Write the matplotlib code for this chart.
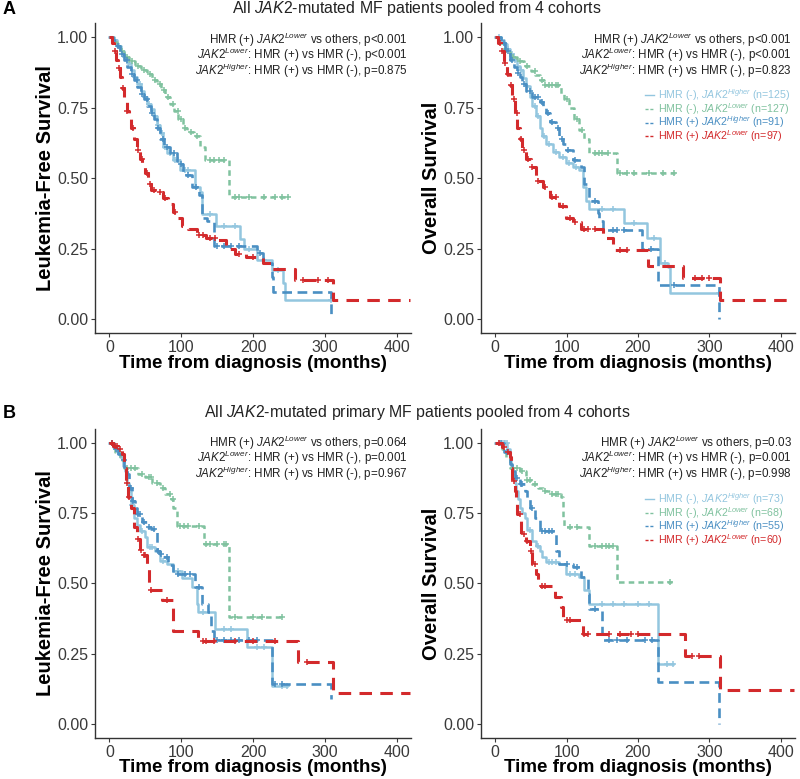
import numpy as np
import matplotlib
matplotlib.use("Agg")
import matplotlib.pyplot as plt
from matplotlib.lines import Line2D
from matplotlib.ticker import FormatStrFormatter

plt.rcParams['font.family'] = ['Liberation Sans', 'DejaVu Sans']
plt.rcParams['mathtext.fontset'] = 'custom'
plt.rcParams['mathtext.rm'] = 'Liberation Sans'
plt.rcParams['mathtext.it'] = 'Liberation Sans:italic'
plt.rcParams['mathtext.bf'] = 'Liberation Sans:bold'
plt.rcParams['lines.scale_dashes'] = False

# ---------------- data ----------------
# groups: negHi = HMR(-) JAK2 Higher, negLo = HMR(-) JAK2 Lower,
#         posHi = HMR(+) JAK2 Higher, posLo = HMR(+) JAK2 Lower
# A, leukemia-free survival
al_negHi_t = [0, 6, 11, 16, 20, 25, 30, 34, 39, 44, 48, 53, 58, 62, 66, 71, 75, 80, 89, 99, 119, 126, 129, 148, 182, 187, 205, 226, 242, 244, 309]
al_negHi_s = [1, .99, .97, .95, .93, .91, .885, .86, .835, .81, .79, .765, .745, .72, .69, .66, .61, .59, .565, .53, .47, .45, .375, .33, .285, .25, .21, .175, .13, .07, .07]
al_negHi_c = [8, 14, 22, 28, 36, 42, 50, 55, 64, 68, 73, 78, 85, 92, 95, 105, 110, 140, 160, 175, 195, 215, 235, 309]
al_negLo_t = [0, 5, 10, 15, 20, 28, 36, 44, 52, 60, 66, 72, 78, 84, 90, 96, 102, 108, 118, 126, 133, 167, 249]
al_negLo_s = [1, .985, .97, .95, .93, .915, .90, .885, .87, .85, .835, .815, .79, .765, .74, .71, .68, .665, .65, .61, .565, .435, .435]
al_negLo_c = [18, 25, 32, 40, 48, 56, 63, 70, 76, 82, 88, 95, 100, 106, 114, 122, 140, 145, 152, 160, 175, 180, 195, 215, 230, 240, 249]
al_posHi_t = [0, 5, 10, 15, 20, 25, 30, 34, 39, 44, 48, 53, 58, 62, 66, 71, 76, 85, 94, 103, 115, 125, 129, 136, 145, 205, 214, 226, 228, 309]
al_posHi_s = [1, .99, .97, .94, .92, .895, .87, .85, .825, .80, .78, .755, .73, .71, .68, .64, .61, .59, .55, .51, .47, .44, .36, .35, .26, .235, .20, .15, .098, 0]
al_posHi_c = [12, 18, 24, 32, 38, 46, 52, 60, 68, 74, 80, 90, 100, 110, 120, 150, 160, 170, 180, 210]
al_posLo_t = [0, 3, 6, 9, 12, 15, 18, 21, 24, 27, 30, 34, 38, 42, 46, 50, 54, 58, 66, 74, 82, 88, 95, 101, 110, 122, 135, 150, 163, 175, 190, 214, 226, 258, 312, 418]
al_posLo_s = [1, .98, .95, .92, .89, .86, .82, .78, .74, .71, .68, .64, .60, .57, .55, .52, .48, .46, .45, .43, .41, .38, .36, .33, .32, .30, .29, .28, .25, .23, .22, .20, .18, .14, .07, .07]
al_posLo_c = [8, 13, 19, 25, 33, 40, 45, 52, 56, 62, 70, 78, 92, 125, 130, 140, 147, 180, 200, 270, 290, 305]

# A, overall survival
ar_negHi_t = [0, 8, 12, 16, 20, 25, 30, 34, 39, 43, 48, 52, 57, 62, 66, 71, 81, 90, 99, 109, 118, 123, 127, 132, 181, 212, 231, 242, 245, 313]
ar_negHi_s = [1, .99, .975, .96, .94, .92, .90, .885, .855, .826, .79, .755, .72, .68, .65, .62, .595, .577, .554, .54, .53, .47, .42, .39, .34, .29, .20, .187, .092, .092]
ar_negHi_c = [5, 10, 14, 18, 24, 28, 36, 45, 55, 60, 68, 75, 85, 95, 103, 113, 150, 165, 195, 222, 238, 313]
ar_negLo_t = [0, 6, 12, 20, 30, 40, 50, 56, 62, 68, 92, 97, 103, 110, 118, 125, 132, 170, 252]
ar_negLo_s = [1, .98, .955, .93, .915, .90, .88, .865, .85, .83, .80, .78, .75, .71, .67, .64, .59, .52, .52]
ar_negLo_c = [15, 25, 35, 45, 55, 65, 70, 75, 80, 85, 88, 100, 115, 122, 140, 145, 150, 158, 175, 185, 195, 215, 235, 250]
ar_posHi_t = [0, 8, 14, 20, 26, 30, 34, 38, 43, 52, 62, 67, 71, 76, 85, 90, 95, 99, 109, 120, 125, 132, 144, 146, 151, 205, 228, 313]
ar_posHi_s = [1, .98, .95, .92, .895, .875, .86, .835, .81, .79, .77, .75, .73, .70, .68, .64, .62, .60, .566, .54, .48, .42, .376, .35, .317, .25, .122, 0]
ar_posHi_c = [12, 18, 24, 32, 40, 48, 56, 60, 65, 74, 80, 88, 93, 102, 112, 140, 165, 170, 180, 218, 250]
ar_posLo_t = [0, 4, 8, 12, 16, 20, 24, 28, 31, 34, 38, 43, 50, 57, 67, 76, 90, 99, 109, 120, 151, 165, 214, 263, 315, 418]
ar_posLo_s = [1, .98, .95, .91, .87, .83, .78, .73, .68, .64, .60, .57, .54, .49, .47, .435, .40, .36, .345, .32, .29, .245, .19, .146, .07, .07]
ar_posLo_c = [6, 10, 14, 18, 22, 26, 30, 36, 40, 46, 52, 60, 70, 80, 85, 95, 105, 112, 125, 130, 140, 175, 185, 280, 290, 300]

# B, leukemia-free survival
bl_negHi_t = [0, 5, 10, 15, 19, 22, 25, 27, 30, 34, 38, 43, 50, 52, 64, 71, 80, 89, 101, 115, 122, 124, 147, 191, 226, 247]
bl_negHi_s = [1, .985, .97, .95, .92, .90, .86, .83, .78, .735, .71, .688, .664, .63, .617, .58, .57, .546, .52, .486, .427, .397, .338, .273, .136, .136]
bl_negHi_c = [3, 8, 12, 18, 32, 45, 56, 60, 75, 95, 130, 160, 170, 205, 215, 240, 247]
bl_negLo_t = [0, 8, 15, 20, 40, 50, 60, 70, 78, 86, 89, 94, 132, 166, 244]
bl_negLo_s = [1, .97, .94, .91, .89, .88, .86, .84, .82, .80, .77, .705, .64, .38, .38]
bl_negLo_c = [25, 30, 36, 45, 55, 58, 66, 75, 85, 88, 98, 104, 110, 125, 135, 140, 150, 160, 163, 175, 200, 212, 240]
bl_posHi_t = [0, 6, 12, 17, 21, 25, 28, 31, 35, 38, 45, 52, 58, 64, 66, 70, 75, 82, 89, 119, 129, 138, 142, 145, 226, 309]
bl_posHi_s = [1, .98, .96, .94, .915, .89, .84, .795, .77, .747, .72, .70, .695, .688, .617, .605, .593, .565, .534, .486, .427, .397, .33, .297, .142, .089]
bl_posHi_c = [4, 9, 20, 30, 33, 40, 42, 48, 55, 62, 68, 72, 80, 95, 105, 112, 125, 150, 160, 170, 180, 195, 205, 230, 240]
bl_posLo_t = [0, 5, 12, 17, 20, 23, 26, 30, 34, 38, 42, 46, 52, 55, 73, 89, 124, 262, 312, 418]
bl_posLo_s = [1, .99, .98, .96, .91, .86, .81, .77, .70, .66, .62, .60, .55, .475, .44, .33, .295, .22, .11, .11]
bl_posLo_c = [3, 8, 10, 15, 24, 28, 40, 44, 48, 50, 58, 80, 130, 135, 145, 175, 200, 230, 275]

# B, overall survival
br_negHi_t = [0, 17, 20, 22, 24, 27, 29, 32, 34, 38, 41, 45, 52, 57, 62, 66, 71, 90, 99, 118, 125, 132, 228, 249]
br_negHi_s = [1, .98, .95, .92, .89, .86, .83, .80, .77, .75, .735, .69, .652, .635, .617, .595, .575, .57, .534, .522, .475, .427, .214, .214]
br_negHi_c = [5, 10, 12, 14, 16, 48, 60, 75, 80, 85, 105, 112, 150, 165, 180, 200, 215, 240, 249]
br_negLo_t = [0, 10, 15, 20, 34, 43, 52, 60, 67, 76, 92, 95, 97, 132, 170, 247]
br_negLo_s = [1, .98, .95, .91, .90, .87, .854, .84, .83, .82, .807, .735, .70, .635, .504, .504]
br_negLo_c = [25, 30, 38, 45, 48, 56, 70, 80, 85, 88, 105, 115, 140, 150, 155, 160, 165, 245]
br_posHi_t = [0, 12, 20, 24, 27, 34, 41, 45, 48, 55, 62, 85, 90, 109, 120, 130, 132, 149, 151, 228, 313]
br_posHi_s = [1, .97, .925, .90, .877, .854, .83, .80, .77, .735, .688, .617, .57, .558, .522, .463, .41, .32, .297, .148, 0]
br_posHi_c = [8, 16, 30, 36, 38, 52, 65, 70, 75, 80, 100, 115, 140, 160, 170, 185, 210, 220]
br_posLo_t = [0, 10, 15, 20, 22, 24, 27, 29, 31, 36, 43, 48, 52, 57, 60, 83, 92, 95, 123, 266, 315, 418]
br_posLo_s = [1, .985, .97, .95, .91, .865, .83, .795, .747, .676, .652, .617, .57, .534, .49, .45, .415, .368, .32, .243, .119, .119]
br_posLo_c = [5, 12, 18, 26, 35, 40, 45, 50, 55, 65, 70, 100, 105, 125, 130, 160, 175, 190, 200, 275, 285]

a_n = [125, 127, 91, 97]
b_n = [73, 68, 55, 60]
group_names = ["HMR (-), $\\mathit{JAK2}^{\\mathit{Higher}}$",
               "HMR (-), $\\mathit{JAK2}^{\\mathit{Lower}}$",
               "HMR (+) $\\mathit{JAK2}^{\\mathit{Higher}}$",
               "HMR (+) $\\mathit{JAK2}^{\\mathit{Lower}}$"]
pvals_al = ["p<0.001", "p<0.001", "p=0.875"]
pvals_ar = ["p<0.001", "p<0.001", "p=0.823"]
pvals_bl = ["p=0.064", "p=0.001", "p=0.967"]
pvals_br = ["p=0.03", "p=0.001", "p=0.998"]

# ---------------- styles ----------------
colors = ['#93c6df', '#80c29f', '#4a8fc3', '#d32a2c']
dashes = [None, (4, 3), (7, 4), (9, 6)]
widths = [1.8, 1.8, 1.9, 2.2]
axcol = '#333333'


def km(ax, t, s, cens, i):
    t = np.asarray(t, float)
    s = np.asarray(s, float)
    line, = ax.step(t, s, where='post', color=colors[i], lw=widths[i], clip_on=True)
    if dashes[i]:
        line.set_dashes(dashes[i])
    c = np.asarray(cens, float)
    cy = s[np.searchsorted(t, c, side='right') - 1]
    ax.plot(c, cy, ls='none', marker='+', ms=5, mew=1.1, color=colors[i])


def panel(ax, curves, ylabel, pvals, top, n=None, leg_top=None, leg_step=None):
    for i, (t, s, c) in enumerate(curves):
        km(ax, t, s, c, i)
    ax.set_xlim(-20, 420)
    ax.set_ylim(-0.05, 1.05)
    ax.set_xticks([0, 100, 200, 300, 400])
    ax.set_yticks([0, 0.25, 0.5, 0.75, 1.0])
    ax.yaxis.set_major_formatter(FormatStrFormatter('%.2f'))
    for sp in ['top', 'right']:
        ax.spines[sp].set_visible(False)
    for sp in ['left', 'bottom']:
        ax.spines[sp].set_color(axcol)
        ax.spines[sp].set_linewidth(1.0)
    ax.tick_params(labelsize=11.5, colors='#3a3a3a', length=3, width=0.8, pad=2)
    ax.set_xlabel('Time from diagnosis (months)', fontsize=13.5, fontweight='bold')
    ax.set_ylabel(ylabel, fontsize=14.5, fontweight='bold')
    ax.xaxis.set_label_coords(0.5, -0.096)
    ax.xaxis.label.set_va('center')
    ax.yaxis.set_label_coords(-0.157, 0.5)
    ax.yaxis.label.set_va('center')

    lines = ["HMR (+) $\\mathit{JAK2}^{\\mathit{Lower}}$ vs others, " + pvals[0],
             "$\\mathit{JAK2}^{\\mathit{Lower}}$: HMR (+) vs HMR (-), " + pvals[1],
             "$\\mathit{JAK2}^{\\mathit{Higher}}$: HMR (+) vs HMR (-), " + pvals[2]]
    for k, txt in enumerate(lines):
        ax.text(0.99, top - k * 0.051, txt, transform=ax.transAxes, ha='right',
                va='center', fontsize=8.4, color='#222222')

    if n is not None:
        # legend drawn as key line + coloured label, one row per group
        for i in range(4):
            y = leg_top - i * leg_step
            key = Line2D([0.522, 0.552], [y, y], transform=ax.transAxes, color=colors[i],
                         lw=1.0, clip_on=False)
            if dashes[i]:
                key.set_dashes((2.2, 1.3))
            ax.add_line(key)
            ax.text(0.565, y, f"{group_names[i]} (n={n[i]})", transform=ax.transAxes,
                    ha='left', va='center', fontsize=7.7, color=colors[i])


fig = plt.figure(figsize=(8, 7.79), dpi=100)
ax_al = fig.add_axes([0.11875, 0.5721, 0.395, 0.398])
ax_ar = fig.add_axes([0.60125, 0.5721, 0.3925, 0.398])
ax_bl = fig.add_axes([0.11875, 0.053, 0.395, 0.396])
ax_br = fig.add_axes([0.60125, 0.053, 0.3925, 0.396])

panel(ax_al, [(al_negHi_t, al_negHi_s, al_negHi_c), (al_negLo_t, al_negLo_s, al_negLo_c),
              (al_posHi_t, al_posHi_s, al_posHi_c), (al_posLo_t, al_posLo_s, al_posLo_c)],
      'Leukemia-Free Survival', pvals_al, 0.948)
panel(ax_ar, [(ar_negHi_t, ar_negHi_s, ar_negHi_c), (ar_negLo_t, ar_negLo_s, ar_negLo_c),
              (ar_posHi_t, ar_posHi_s, ar_posHi_c), (ar_posLo_t, ar_posLo_s, ar_posLo_c)],
      'Overall Survival', pvals_ar, 0.948, a_n, 0.769, 0.0445)
panel(ax_bl, [(bl_negHi_t, bl_negHi_s, bl_negHi_c), (bl_negLo_t, bl_negLo_s, bl_negLo_c),
              (bl_posHi_t, bl_posHi_s, bl_posHi_c), (bl_posLo_t, bl_posLo_s, bl_posLo_c)],
      'Leukemia-Free Survival', pvals_bl, 0.957)
panel(ax_br, [(br_negHi_t, br_negHi_s, br_negHi_c), (br_negLo_t, br_negLo_s, br_negLo_c),
              (br_posHi_t, br_posHi_s, br_posHi_c), (br_posLo_t, br_posLo_s, br_posLo_c)],
      'Overall Survival', pvals_br, 0.957, b_n, 0.774, 0.0445)

fig.text(3 / 800, 1 - 9 / 779, 'A', fontsize=13, fontweight='bold', ha='left', va='center')
fig.text(3 / 800, 1 - 413 / 779, 'B', fontsize=13, fontweight='bold', ha='left', va='center')
fig.text(417 / 800, 1 - 9 / 779, "All $\\mathit{JAK2}$-mutated MF patients pooled from 4 cohorts",
         fontsize=11.4, ha='center', va='center', color='#222222')
fig.text(417 / 800, 1 - 413 / 779, "All $\\mathit{JAK2}$-mutated primary MF patients pooled from 4 cohorts",
         fontsize=11.4, ha='center', va='center', color='#222222')

fig.savefig('out.png', dpi=100)
